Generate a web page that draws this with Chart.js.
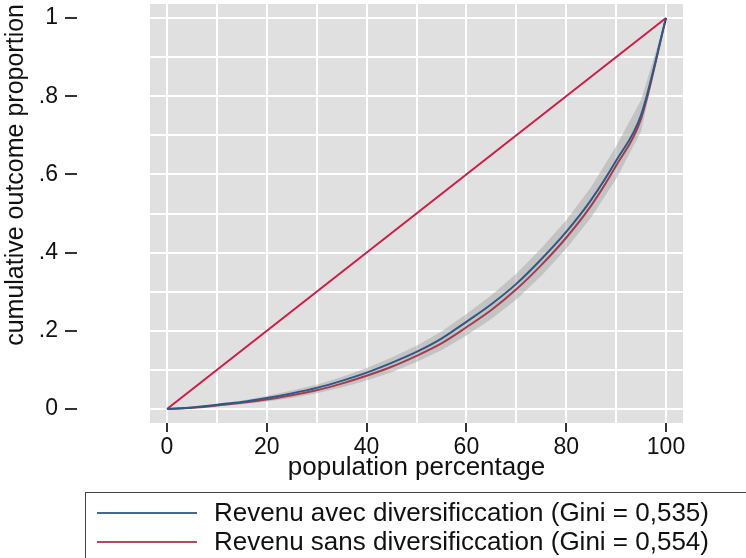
<!DOCTYPE html>
<html>
<head>
<meta charset="utf-8">
<script src="https://cdn.jsdelivr.net/npm/chart.js@4"></script>
<style>
  html, body { margin: 0; padding: 0; background: #fff; }
  #wrap { width: 746px; height: 558px; }
</style>
</head>
<body>
<div id="wrap"><canvas id="chart" width="746" height="558"></canvas></div>
<script>
'use strict';

// population percentage (x)
let pop = [0,5,10,15,20,25,30,35,40,45,50,55,60,65,70,75,80,85,90,95,100];

// cumulative outcome proportion
let avec = [0,0.004,0.011,0.018,0.028,0.040,0.054,0.072,0.093,0.118,0.146,0.180,0.223,0.268,0.320,0.383,0.453,0.535,0.635,0.752,1];
let sans = [0,0.003,0.009,0.016,0.024,0.035,0.048,0.065,0.085,0.108,0.136,0.168,0.209,0.253,0.306,0.368,0.438,0.520,0.622,0.742,1];

// grey confidence band
let bandLow  = [0,0.002,0.007,0.012,0.019,0.028,0.040,0.055,0.073,0.094,0.120,0.150,0.188,0.230,0.280,0.340,0.410,0.490,0.588,0.710,1];
let bandHigh = [0,0.005,0.013,0.022,0.033,0.047,0.062,0.082,0.105,0.132,0.162,0.198,0.243,0.291,0.346,0.411,0.483,0.568,0.672,0.790,1];

// line of equality
let eqX = [0,100];
let eqY = [0,1];

let xTicks = [0,10,20,30,40,50,60,70,80,90,100];
let yTicks = [0,0.1,0.2,0.3,0.4,0.5,0.6,0.7,0.8,0.9,1];
let yLabels = {0:'0', 0.2:'.2', 0.4:'.4', 0.6:'.6', 0.8:'.8', 1:'1'};

let labelAvec = 'Revenu avec diversificcation (Gini = 0,535)';
let labelSans = 'Revenu sans diversificcation (Gini = 0,554)';

function pts(xs, ys)
{
    let out = [];
    for (let i = 0; i < xs.length; i++) {
        out.push({x: xs[i], y: ys[i]});
    }
    return out;
}

const FONT = 'Liberation Sans, Arial, sans-serif';

// white page + grey plot region
const background = {
    id: 'background',
    beforeDraw(chart) {
        const ctx = chart.ctx;
        const a = chart.chartArea;
        ctx.save();
        ctx.fillStyle = '#ffffff';
        ctx.fillRect(0, 0, chart.width, chart.height);
        ctx.fillStyle = '#e0e0e0';
        ctx.fillRect(a.left, a.top, a.right - a.left, a.bottom - a.top);
        ctx.restore();
    }
};

// y tick marks sit away from the plot region, next to the labels
const yTickMarks = {
    id: 'yTickMarks',
    afterDraw(chart) {
        const ctx = chart.ctx;
        const y = chart.scales.y;
        ctx.save();
        ctx.strokeStyle = '#333';
        ctx.lineWidth = 2;
        for (const v in yLabels) {
            const py = Math.round(y.getPixelForValue(Number(v)));
            ctx.beginPath();
            ctx.moveTo(65, py);
            ctx.lineTo(77, py);
            ctx.stroke();
        }
        ctx.restore();
    }
};

// boxed legend under the x title
const boxLegend = {
    id: 'boxLegend',
    afterDraw(chart) {
        const ctx = chart.ctx;
        const items = chart.data.datasets.filter(d => d.inLegend);
        ctx.save();
        ctx.strokeStyle = '#444';
        ctx.lineWidth = 1;
        ctx.strokeRect(85.5, 492.5, 700, 100);
        ctx.font = '26px ' + FONT;
        ctx.textBaseline = 'middle';
        ctx.fillStyle = '#111';
        for (let i = 0; i < items.length; i++) {
            const yy = 513 + i * 29;
            ctx.strokeStyle = items[i].legendColor;
            ctx.lineWidth = 2;
            ctx.beginPath();
            ctx.moveTo(97, yy);
            ctx.lineTo(197, yy);
            ctx.stroke();
            ctx.fillText(items[i].label, 214, yy + 1);
        }
        ctx.restore();
    }
};

let ctx = document.getElementById('chart').getContext('2d');
let myChart = new Chart(ctx, {
    type: 'scatter',
    data: {
        datasets: [
            {
                label: 'band high',
                data: pts(pop, bandHigh),
                showLine: true,
                borderWidth: 0,
                borderColor: 'rgba(0,0,0,0)',
                pointRadius: 0,
                fill: false,
                order: 10
            },
            {
                label: 'band low',
                data: pts(pop, bandLow),
                showLine: true,
                borderWidth: 0,
                borderColor: 'rgba(0,0,0,0)',
                backgroundColor: 'rgba(165,165,165,0.5)',
                pointRadius: 0,
                fill: '-1',
                order: 9
            },
            {
                label: 'equality',
                data: pts(eqX, eqY),
                showLine: true,
                borderColor: '#cf1b45',
                borderWidth: 2,
                pointRadius: 0,
                fill: false,
                order: 3
            },
            {
                label: labelAvec,
                data: pts(pop, avec),
                showLine: true,
                borderColor: '#2a5a86',
                borderWidth: 2,
                pointRadius: 0,
                fill: false,
                cubicInterpolationMode: 'monotone',
                order: 1,
                inLegend: true,
                legendColor: '#45698e'
            },
            {
                label: labelSans,
                data: pts(pop, sans),
                showLine: true,
                borderColor: '#a83a4f',
                borderWidth: 2,
                pointRadius: 0,
                fill: false,
                cubicInterpolationMode: 'monotone',
                order: 2,
                inLegend: true,
                legendColor: '#b04a5a'
            }
        ]
    },
    options: {
        responsive: false,
        animation: false,
        layout: { padding: { top: 4, right: 63, bottom: 73, left: 0 } },
        plugins: {
            legend: { display: false },
            tooltip: { enabled: false }
        },
        scales: {
            x: {
                type: 'linear',
                min: -3.41,
                max: 103.41,
                afterBuildTicks(scale) {
                    scale.ticks = xTicks.map(v => ({value: v}));
                },
                afterFit(scale) {
                    scale.height = 62;
                },
                border: { display: false },
                grid: {
                    color: '#ffffff',
                    lineWidth: 2,
                    drawTicks: true,
                    tickLength: 9,
                    tickWidth: 2,
                    tickColor: (c) => (c.tick && c.tick.value % 20 === 0) ? '#333' : 'rgba(0,0,0,0)'
                },
                ticks: {
                    padding: 4,
                    color: '#111',
                    maxRotation: 0,
                    autoSkip: false,
                    font: { family: FONT, size: 23, lineHeight: 1 },
                    callback: (v) => (v % 20 === 0) ? String(v) : ''
                },
                title: {
                    display: true,
                    text: 'population percentage',
                    color: '#111',
                    padding: { top: 0, bottom: 4 },
                    font: { family: FONT, size: 26, lineHeight: 1 }
                }
            },
            y: {
                type: 'linear',
                min: -0.0358,
                max: 1.0358,
                afterBuildTicks(scale) {
                    scale.ticks = yTicks.map(v => ({value: v}));
                },
                afterFit(scale) {
                    // labels sit far from the plot, keep the layout from reserving room above it
                    scale.width = 150;
                    scale.paddingTop = 0;
                    scale.paddingBottom = 0;
                },
                border: { display: false },
                grid: {
                    color: '#ffffff',
                    lineWidth: 2,
                    drawTicks: false
                },
                ticks: {
                    padding: 92,
                    color: '#111',
                    autoSkip: false,
                    font: { family: FONT, size: 23, lineHeight: 1 },
                    callback: (v) => {
                        const k = Math.round(v * 10) / 10;
                        return yLabels[k] !== undefined ? yLabels[k] : '';
                    }
                },
                title: {
                    display: true,
                    text: 'cumulative outcome proportion',
                    align: 'end',
                    color: '#111',
                    padding: { top: 4, bottom: 0 },
                    font: { family: FONT, size: 25, lineHeight: 1 }
                }
            }
        }
    },
    plugins: [background, yTickMarks, boxLegend]
});
</script>
</body>
</html>
